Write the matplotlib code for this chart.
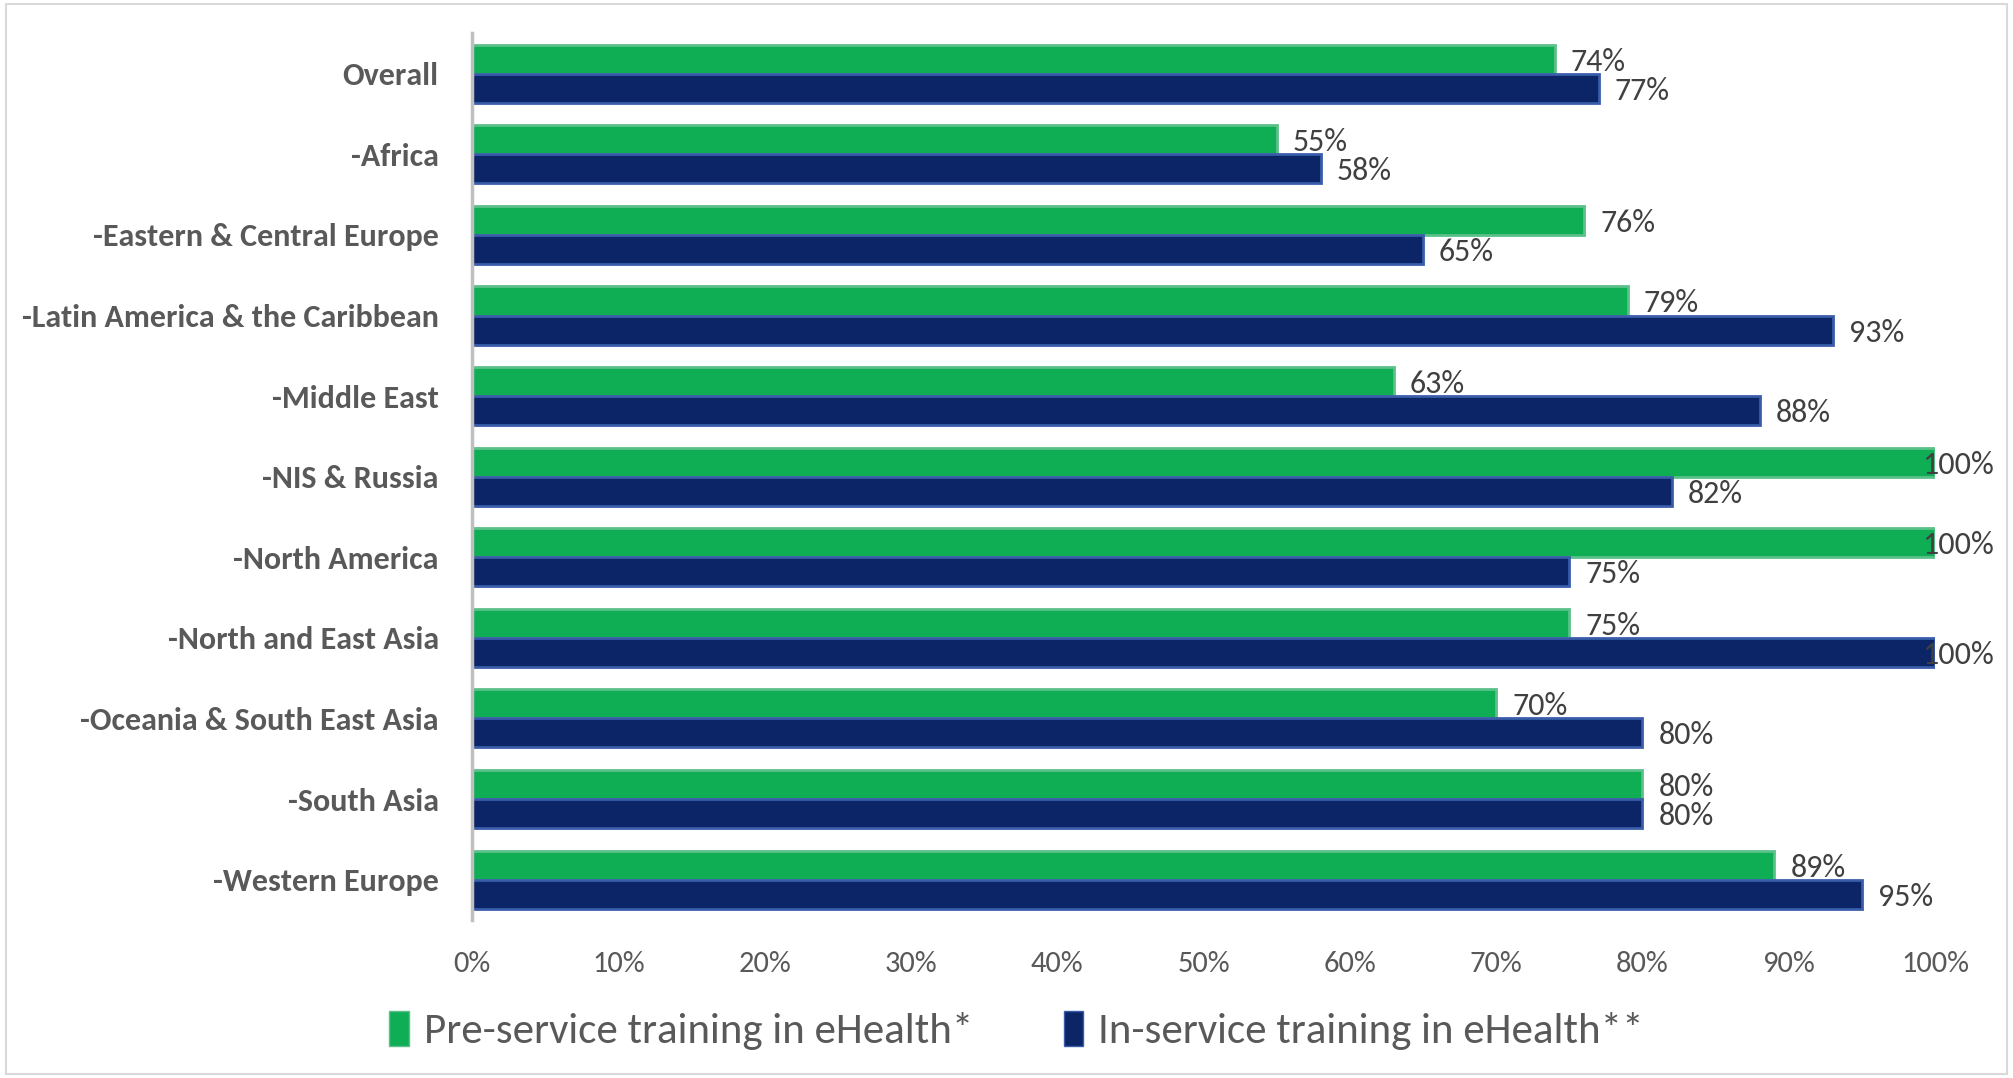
import matplotlib.pyplot as plt
import matplotlib.patches as mpatches
import numpy as np

# Regions and shares of countries offering eHealth training
regions = ['Overall', '-Africa', '-Eastern & Central Europe',
           '-Latin America & the Caribbean', '-Middle East', '-NIS & Russia',
           '-North America', '-North and East Asia',
           '-Oceania & South East Asia', '-South Asia', '-Western Europe']
pre_service = [74, 55, 76, 79, 63, 100, 100, 75, 70, 80, 89]
in_service = [77, 58, 65, 93, 88, 82, 75, 100, 80, 80, 95]
x_ticks = [0, 10, 20, 30, 40, 50, 60, 70, 80, 90, 100]

green, green_edge = '#0FAE55', '#5CC08A'
navy, navy_edge = '#0B2566', '#3A5DAA'
text_gray = '#595959'
label_gray = '#404040'

plt.rcParams['font.family'] = ['Carlito', 'DejaVu Sans']

fig = plt.figure(figsize=(20.13, 10.78), dpi=100)
ax = fig.add_axes([0.2345, 0.1466, 0.7268, 0.8224])

y = np.arange(len(regions))
h = 0.36

ax.barh(y - h / 2, pre_service, height=h, color=green,
        edgecolor=green_edge, linewidth=2)
ax.barh(y + h / 2, in_service, height=h, color=navy,
        edgecolor=navy_edge, linewidth=2)

# value labels right of each bar, pulled back at the right edge
for vals, off in ((pre_service, -h / 2), (in_service, h / 2)):
    for i, v in enumerate(vals):
        ax.text(min(v + 1.1, 99.1), i + off, f'{v}%', ha='left',
                va='center_baseline', fontsize=23, color=label_gray,
                clip_on=False)

ax.set_xlim(0, 100)
ax.set_ylim(len(regions) - 0.5, -0.5)
ax.set_xticks(x_ticks)
ax.set_xticklabels([f'{t}%' for t in x_ticks], fontsize=22, color=text_gray)
ax.set_yticks(y)
ax.set_yticklabels(regions, fontsize=23, fontweight='bold', color=text_gray)
ax.tick_params(axis='both', length=0)
ax.tick_params(axis='y', pad=24)
ax.tick_params(axis='x', pad=22)

for side in ('top', 'right', 'bottom'):
    ax.spines[side].set_visible(False)
ax.spines['left'].set_color('#BFBFBF')
ax.spines['left'].set_linewidth(2.5)

handles = [mpatches.Patch(facecolor=green, edgecolor=green_edge, linewidth=1),
           mpatches.Patch(facecolor=navy, edgecolor=navy_edge, linewidth=1)]
fig.legend(handles, ['Pre-service training in eHealth*',
                     'In-service training in eHealth**'],
           loc='center', bbox_to_anchor=(0.505, 0.044), ncol=2, frameon=False,
           fontsize=31, labelcolor=text_gray, handlelength=0.45,
           handleheight=0.9, handletextpad=0.35, columnspacing=2.1)

# thin frame around the whole chart
fig.patches.append(mpatches.Rectangle((0.003, 0.004), 0.994, 0.992,
                                      transform=fig.transFigure, fill=False,
                                      edgecolor='#D9D9D9', linewidth=1.5))

fig.savefig('out.png', dpi=100, facecolor='white')
